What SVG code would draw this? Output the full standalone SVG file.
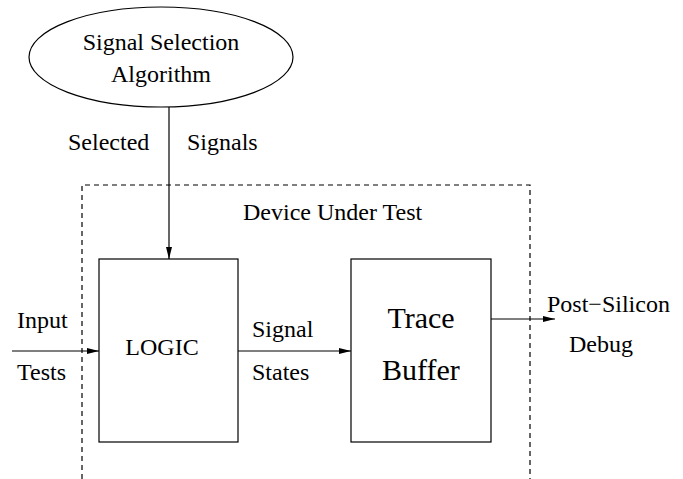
<svg xmlns="http://www.w3.org/2000/svg" width="683" height="479" viewBox="0 0 683 479">
<defs>
<marker id="ah" markerWidth="12" markerHeight="6" refX="12" refY="3" orient="auto" markerUnits="userSpaceOnUse">
<path d="M0,0 L12,3 L0,6 Z" fill="#000"/>
</marker>
<style>
text{font-family:"Times New Roman",Times,Tinos,"Nimbus Roman","Noto Serif","Liberation Serif","DejaVu Serif",serif;font-size:24px;fill:#000}
.big{font-size:30px}
.shape{fill:#fff;stroke:#000;stroke-width:1.2}
.conn{fill:none;stroke:#000;stroke-width:1.2}
.dash{fill:none;stroke:#000;stroke-width:1.2;stroke-dasharray:5,4}
</style>
</defs>
<rect width="683" height="479" fill="#fff"/>
<g id="dut">
<path class="dash" d="M82,479 L82,185 L530,185 L530,479"/>
<text x="243" y="220">Device Under Test</text>
</g>
<g id="ssa">
<ellipse class="shape" cx="161" cy="57" rx="132" ry="50"/>
<text x="161" y="50" text-anchor="middle">Signal Selection</text>
<text x="161" y="82" text-anchor="middle">Algorithm</text>
</g>
<g id="logic">
<rect class="shape" x="99" y="259" width="139" height="183"/>
<text x="162" y="355" text-anchor="middle">LOGIC</text>
</g>
<g id="tracebuffer">
<rect class="shape" x="351" y="259" width="140" height="183"/>
<text class="big" x="421" y="328" text-anchor="middle">Trace</text>
<text class="big" x="421" y="380" text-anchor="middle">Buffer</text>
</g>
<g id="connectors">
<line class="conn" x1="169" y1="107" x2="169" y2="259" marker-end="url(#ah)"/>
<line class="conn" x1="12" y1="351" x2="99" y2="351" marker-end="url(#ah)"/>
<line class="conn" x1="238" y1="351" x2="351" y2="351" marker-end="url(#ah)"/>
<line class="conn" x1="491" y1="319" x2="555" y2="319" marker-end="url(#ah)"/>
</g>
<g id="labels">
<text x="68" y="150">Selected</text>
<text x="187" y="150">Signals</text>
<text x="17" y="328">Input</text>
<text x="17" y="380">Tests</text>
<text x="252" y="337">Signal</text>
<text x="252" y="380">States</text>
<text x="547" y="312">Post−Silicon</text>
<text x="569" y="352">Debug</text>
</g>
</svg>
